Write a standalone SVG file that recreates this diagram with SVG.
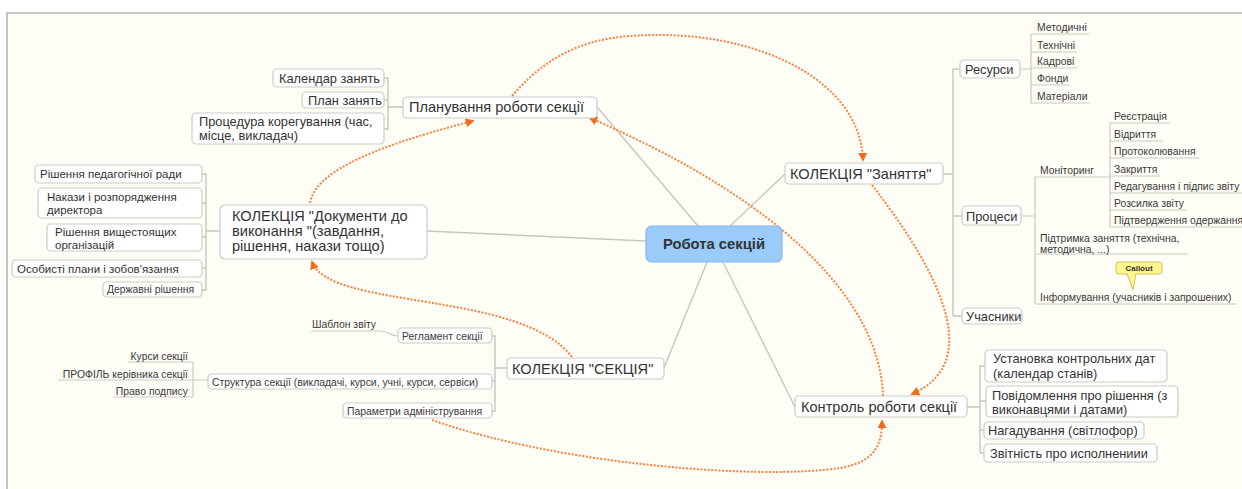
<svg xmlns="http://www.w3.org/2000/svg" width="1242" height="489" viewBox="0 0 1242 489">
<style>
text{font-family:"Liberation Sans",Arial,sans-serif;fill:#333}
.box{fill:#fff;stroke:#cbcbc6;stroke-width:1.2}
.main{font-size:14.6px}
.sub{font-size:12.8px}
.small{font-size:11.5px}
.tiny{font-size:10.4px;fill:#3a3a3a}
.ln{fill:none;stroke:#c6c6bf;stroke-width:1.4}
.ul{fill:none;stroke:#c9c9c2;stroke-width:1.2}
.rel{fill:none;stroke:#f7813a;stroke-width:2;stroke-dasharray:2 1.6}
</style>
<defs>
<marker id="arr" viewBox="0 0 10 10" refX="8" refY="5" markerWidth="9" markerHeight="9" markerUnits="userSpaceOnUse" orient="auto">
<path d="M0,0 L10,5 L0,10 z" fill="#f26a1b"/>
</marker>
</defs>
<rect x="0" y="0" width="1242" height="489" fill="#fff"/>
<rect x="7" y="13" width="1235" height="476" fill="#fefdf6"/>
<line x1="6" y1="13" x2="1242" y2="13" stroke="#c8c8c8" stroke-width="2"/>
<line x1="7" y1="12" x2="7" y2="489" stroke="#c4c4c4" stroke-width="2"/>

<g id="connectors">
<path class="ln" d="M698,226 L597,107"/>
<path class="ln" d="M730,226 L785,174"/>
<path class="ln" d="M646,241 L427,231"/>
<path class="ln" d="M707,262 L664,368"/>
<path class="ln" d="M723,262 L795,407"/>
<path class="ln" d="M384,78 H388 V129 H384 M384,100 H388 M388,107 H403"/>
<path class="ln" d="M202,174 H206 V290 H202 M202,203 H206 M202,237 H206 M202,268 H206 M206,231 H220"/>
<path class="ln" d="M492,336 H495 V411 H492 M492,381 H495 M495,368 H507"/>
<path class="ul" d="M311,331 H380 C389,331 389,336 398,336"/>
<path class="ul" d="M128,362 H193 M58,380 H208 M113,397 H193 M193,362 V397"/>
<path class="ln" d="M943,174 H953 M953,69 V316 M953,69 H960 M953,216 H962 M953,316 H962"/>
<path class="ul" d="M1020,69 H1031 M1031,34 V103 M1031,34 H1089 M1031,52 H1077 M1031,68 H1077 M1031,85 H1069 M1031,103 H1089"/>
<path class="ul" d="M1021,216 H1035 M1035,177 V304 M1035,177 H1110 M1035,254 H1188 M1035,304 H1237"/>
<path class="ul" d="M1110,123 V227 M1110,123 H1170 M1110,141 H1163 M1110,158 H1200 M1110,176 H1160 M1110,193 H1242 M1110,210 H1187 M1110,227 H1242"/>
<path class="ln" d="M967,407 H980 M980,366 V453 M980,366 H985 M980,401 H986 M980,430 H984 M980,453 H984"/>
<path class="rel" d="M310,203 C315,175 360,150 473,121" marker-end="url(#arr)"/>
<path class="rel" d="M512,96 C560,40 610,35 660,35 C760,35 860,80 863,160" marker-end="url(#arr)"/>
<path class="rel" d="M883,396 C880,300 780,200 590,118" marker-end="url(#arr)"/>
<path class="rel" d="M872,185 C930,260 990,360 912,394" marker-end="url(#arr)"/>
<path class="rel" d="M572,357 C520,290 330,310 312,262" marker-end="url(#arr)"/>
<path class="rel" d="M432,420 C560,465 760,480 840,468 C875,462 882,445 882,421" marker-end="url(#arr)"/>
</g>

<g id="center">
<rect x="646" y="226" width="136" height="36" rx="6" fill="#9acbfa" stroke="#85b6e8" stroke-width="1.2"/>
<text x="714" y="249" text-anchor="middle" font-size="14.8" font-weight="bold" fill="#2b2b2b">Робота секцій</text>
</g>

<g id="planning">
<rect class="box" x="403" y="97" width="194" height="21" rx="4"/>
<text class="main" x="409" y="112">Планування роботи секції</text>
</g>
<g id="calendar">
<rect class="box" x="273" y="69" width="111" height="18" rx="4"/>
<text class="sub" x="279" y="82.5">Календар занять</text>
</g>
<g id="plan">
<rect class="box" x="302" y="92" width="82" height="16" rx="4"/>
<text class="sub" x="308" y="104.5">План занять</text>
</g>
<g id="procedure">
<rect class="box" x="192" y="113" width="192" height="31" rx="4"/>
<text class="sub" x="199" y="126">Процедура корегування (час,</text>
<text class="sub" x="199" y="140">місце, викладач)</text>
</g>

<g id="docs">
<rect class="box" x="220" y="205" width="207" height="54" rx="5"/>
<text class="main" x="232" y="221">КОЛЕКЦІЯ "Документи до</text>
<text class="main" x="232" y="236">виконання "(завдання,</text>
<text class="main" x="232" y="251">рішення, накази тощо)</text>
</g>
<g id="doc1">
<rect class="box" x="35" y="165" width="167" height="18" rx="4"/>
<text class="small" x="40" y="178">Рішення педагогічної ради</text>
</g>
<g id="doc2">
<rect class="box" x="38" y="188" width="164" height="30" rx="4"/>
<text class="small" x="47" y="201">Накази і розпорядження</text>
<text class="small" x="47" y="214">директора</text>
</g>
<g id="doc3">
<rect class="box" x="47" y="224" width="155" height="27" rx="4"/>
<text class="small" x="55" y="236">Рішення вищестоящих</text>
<text class="small" x="55" y="249">організацій</text>
</g>
<g id="doc4">
<rect class="box" x="12" y="260" width="190" height="17" rx="4"/>
<text class="small" x="17" y="273">Особисті плани і зобов'язання</text>
</g>
<g id="doc5">
<rect class="box" x="103" y="282" width="99" height="15" rx="4"/>
<text class="tiny" x="107" y="293">Державні рішення</text>
</g>

<g id="sekcia">
<rect class="box" x="507" y="358" width="157" height="21" rx="4"/>
<text class="main" x="512" y="373.5">КОЛЕКЦІЯ "СЕКЦІЯ"</text>
</g>
<g id="reglament">
<rect class="box" x="398" y="328" width="94" height="15" rx="4"/>
<text class="tiny" x="402" y="339.5">Регламент секції</text>
</g>
<g id="shablon">
<text class="tiny" x="312" y="328">Шаблон звіту</text>
</g>
<g id="struktura">
<rect class="box" x="208" y="374" width="284" height="15" rx="4"/>
<text class="tiny" x="212" y="385.5">Структура секції (викладачі, курси, учні, курси, сервіси)</text>
</g>
<g id="kursy">
<text class="tiny" x="188" y="359.5" text-anchor="end">Курси секції</text>
</g>
<g id="profil">
<text class="tiny" x="188" y="377.5" text-anchor="end">ПРОФІЛЬ керівника секції</text>
</g>
<g id="pravo">
<text class="tiny" x="188" y="394.5" text-anchor="end">Право подпису</text>
</g>
<g id="parametry">
<rect class="box" x="343" y="403" width="149" height="15" rx="4"/>
<text class="tiny" x="347" y="414.5">Параметри адміністрування</text>
</g>

<g id="zanyattia">
<rect class="box" x="785" y="163" width="158" height="21" rx="4"/>
<text class="main" x="790" y="178.5">КОЛЕКЦІЯ "Заняття"</text>
</g>
<g id="resursy">
<rect class="box" x="960" y="60" width="60" height="18" rx="4"/>
<text class="sub" x="965" y="73.5">Ресурси</text>
</g>
<g id="res-items">
<text class="tiny" x="1037" y="31">Методичні</text>
<text class="tiny" x="1037" y="48.5">Технічні</text>
<text class="tiny" x="1037" y="65">Кадрові</text>
<text class="tiny" x="1037" y="82">Фонди</text>
<text class="tiny" x="1037" y="99.5">Матеріали</text>
</g>
<g id="procesy">
<rect class="box" x="962" y="206" width="59" height="19" rx="4"/>
<text class="sub" x="966" y="220.5">Процеси</text>
</g>
<g id="monitoring">
<text class="tiny" x="1040" y="173.5">Моніторинг</text>
</g>
<g id="mon-items">
<text class="tiny" x="1114" y="120">Реєстрація</text>
<text class="tiny" x="1114" y="138">Відриття</text>
<text class="tiny" x="1114" y="155">Протоколювання</text>
<text class="tiny" x="1114" y="173">Закриття</text>
<text class="tiny" x="1114" y="190">Редагування і підпис звіту</text>
<text class="tiny" x="1114" y="207">Розсилка звіту</text>
<text class="tiny" x="1114" y="224">Підтвердження одержання</text>
</g>
<g id="pidtrymka">
<text class="tiny" x="1040" y="242">Підтримка заняття (технічна,</text>
<text class="tiny" x="1040" y="252.5">методична, ...)</text>
</g>
<g id="callout">
<rect x="1116" y="262" width="46" height="12" rx="3" fill="#fff68c" stroke="#cfc35a" stroke-width="1"/>
<path d="M1127,273.5 L1133,290 L1136,273.5" fill="#fff68c" stroke="#cfc35a" stroke-width="1"/>
<rect x="1127.6" y="272" width="8" height="2" fill="#fff68c"/>
<text x="1139" y="271" text-anchor="middle" font-size="8" font-weight="bold" fill="#333">Callout</text>
</g>
<g id="informuvannia">
<text class="tiny" x="1040" y="301">Інформування (учасників і запрошених)</text>
</g>
<g id="uchasnyky">
<rect class="box" x="962" y="308" width="60" height="16" rx="4"/>
<text class="sub" x="966" y="320.5">Учасники</text>
</g>

<g id="kontrol">
<rect class="box" x="795" y="396" width="172" height="21" rx="4"/>
<text class="main" x="801" y="411.5">Контроль роботи секції</text>
</g>
<g id="k1">
<rect class="box" x="985" y="350" width="182" height="32" rx="4"/>
<text class="sub" x="993" y="362.5">Установка контрольних дат</text>
<text class="sub" x="993" y="377.5">(календар станів)</text>
</g>
<g id="k2">
<rect class="box" x="986" y="386" width="192" height="31" rx="4"/>
<text class="sub" x="992" y="399.5">Повідомлення про рішення (з</text>
<text class="sub" x="992" y="413.5">виконавцями і датами)</text>
</g>
<g id="k3">
<rect class="box" x="984" y="422" width="160" height="17" rx="4"/>
<text class="sub" x="988" y="435">Нагадування (світлофор)</text>
</g>
<g id="k4">
<rect class="box" x="984" y="444" width="173" height="18" rx="4"/>
<text class="sub" x="990" y="457.5">Звітність про исполнениии</text>
</g>
</svg>
